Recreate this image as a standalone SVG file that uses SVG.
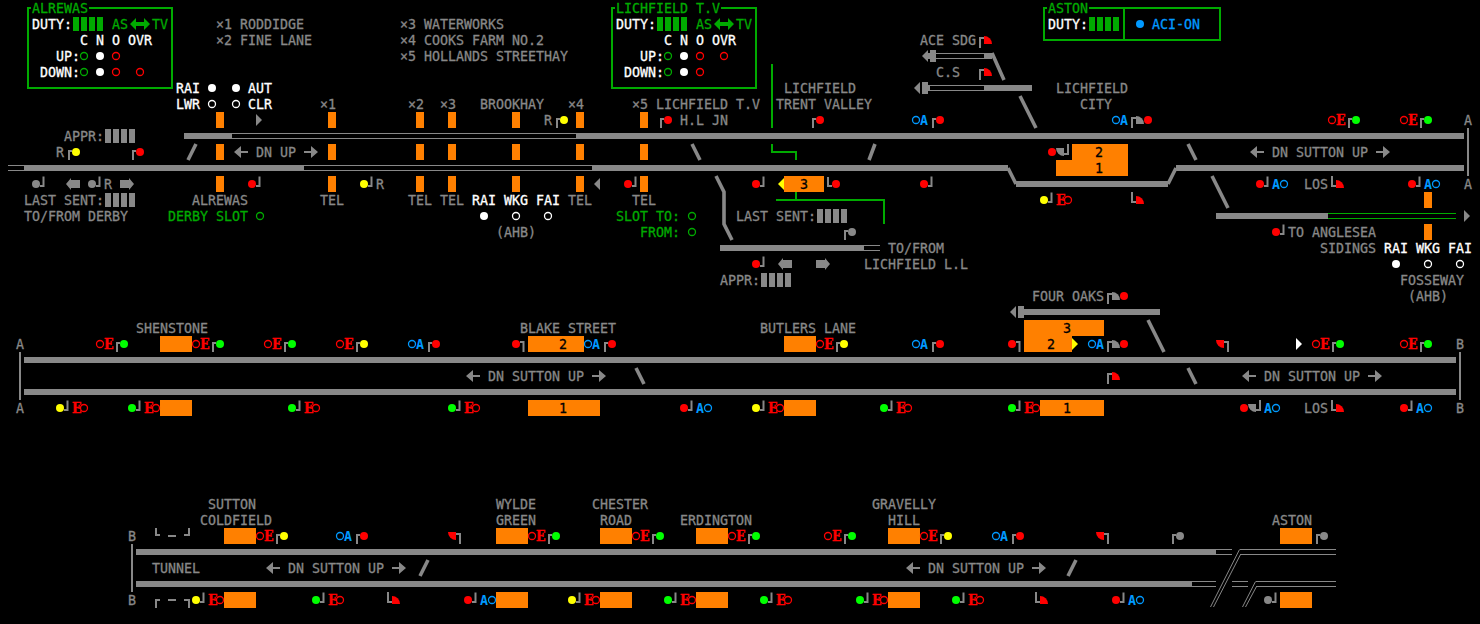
<svg xmlns="http://www.w3.org/2000/svg" width="1480" height="624" viewBox="0 0 1480 624">
<style>
text{font-family:"DejaVu Sans Mono","Liberation Mono",monospace;font-size:13.29px;fill:#888;stroke:#888;stroke-width:.3;white-space:pre}
text.w{fill:#fff;stroke:#fff}
text.g{fill:#00aa00;stroke:#00aa00}
text.b{fill:#0099ff;stroke:none;font-weight:bold}
text.n{fill:#0099ff;stroke:#0099ff}
text.e{fill:#f00;stroke:#f00;stroke-width:.35;font-family:"DejaVu Serif Condensed","DejaVu Serif","Liberation Serif",serif;font-stretch:condensed;font-size:14px;font-weight:bold}
text.d{fill:#000;stroke:#000}
.p{fill:none;stroke:#888;stroke-width:2}
.R{fill:#f00}.G{fill:#0f0}.Y{fill:#ff0}.K{fill:#888}.W{fill:#fff}.Dg{fill:#00aa00}
.hR{stroke:#f00}.hG{stroke:#00aa00}.hW{stroke:#fff}.hB{stroke:#0099ff}
.o{fill:#ff8000}
.thick{fill:none;stroke:#888;stroke-width:6}
.thin{fill:none;stroke:#888;stroke-width:1}
.thing{fill:none;stroke:#00aa00;stroke-width:1}
.sl{fill:none;stroke:#888;stroke-width:3.6}
.gl{fill:none;stroke:#00aa00;stroke-width:2}
.fr{fill:none;stroke:#00aa00;stroke-width:2}
</style>
<defs>
<circle id="h" r="3.5" fill="none" stroke-width="1.3"/>
<circle id="f" r="4"/>
<g id="su"><path class="p" d="M-7,8V-1H-4"/><circle r="4"/></g>
<g id="sd"><path class="p" d="M4,2H7.5V-7.5"/><circle r="4"/></g>
<g id="sc"><path class="p" d="M4,-2H7.5V8"/><circle r="4"/></g>
<g id="qu"><path class="p" d="M0,8V-2H4"/><path d="M4,4V-4A8,8 0 0 1 12,4Z"/></g>
<g id="ql"><path class="p" d="M0,-8V2H4"/><path d="M4,4V-4A8,8 0 0 1 12,4Z"/></g>
<g id="qc"><path class="p" d="M-4,-2H0V8"/><path d="M-4,-4H-12A8,8 0 0 0 -4,4Z"/></g>
<g id="qb"><path class="p" d="M-4,2H0V-8"/><path d="M-4,-4H-12A8,8 0 0 0 -4,4Z"/></g>
<polygon id="al" points="0,0 7,-6 7,-1 14,-1 14,1 7,1 7,6"/>
<polygon id="ar" points="14,0 7,-6 7,-1 0,-1 0,1 7,1 7,6"/>
<polygon id="bl" points="0,0 5,-6 5,-4 14,-4 14,4 5,4 5,6"/>
<polygon id="br" points="14,0 9,-6 9,-4 0,-4 0,4 9,4 9,6"/>
<polygon id="da" points="0,0 6,-6 6,-2 14,-2 14,-6 20,0 14,6 14,2 6,2 6,6"/>
<polygon id="tl" points="0,0 6,-6 6,6"/>
<polygon id="tr" points="6,0 0,-6 0,6"/>
<g id="bars"><rect x="0" y="-7" width="6" height="14"/><rect x="8" y="-7" width="6" height="14"/><rect x="16" y="-7" width="6" height="14"/><rect x="24" y="-7" width="6" height="14"/></g>
</defs>
<rect width="1480" height="624" fill="#000"/>

<g id="connectors">
<path class="thick" d="M184,136H232M576,136H1464M24,168H304M592,168H1008M1016,184H1168M1176,168H1464M1216,216H1328M720,248H864M928,56H936M984,56H992M928,88H930M984,88H1032M24,360H1456M24,392H1456M1024,312H1160M136,552H1216M136,584H1192"/>
<path class="thin" d="M232,133.5H576M232,138.5H576M8,165.5H24M8,170.5H24M304,165.5H592M304,170.5H592M864,245.5H880M864,250.5H880M936,53.5H984M936,58.5H984M928,85.5H984M928,90.5H984M1216,549.5H1232M1216,554.5H1232M1240,549.5H1336M1240,554.5H1336M1192,581.5H1216M1192,586.5H1216M1232,581.5H1248M1232,586.5H1248M1256,581.5H1336M1256,586.5H1336M1239.5,549.5L1210.5,607M1240.5,554.5L1213.5,607M1255.5,581.5L1242.5,607M1256.5,586.5L1245.5,607"/>
<path class="thing" d="M1328,213.5H1456M1328,218.5H1456"/>
<path class="p" d="M1468,128V176M20,352V400M1460,352V400M132,544V592"/>
<path class="sl" d="M1008,168L1016,184M1168,184L1176,168M196,144L188,160M692,144L700,160M875,144L869,160M1188,144L1196,160M716,176L724,192V224L732,240M992,53L1004,80M1020,96L1036,128M1212,176L1228,208M1148,320L1164,352M636,368L644,384M1188,368L1196,384M428,560L420,576M1076,560L1068,576"/>
<path class="gl" d="M772,64V128M772,144V152H796V160M796,192V200M776,200H884V224"/>
<rect class="K" x="930" y="50" width="6" height="12"/><use href="#tl" class="K" x="922" y="56"/>
<rect class="K" x="922" y="82" width="6" height="12"/><use href="#tl" class="K" x="914" y="88"/>
<rect class="K" x="1018" y="306" width="6" height="12"/><use href="#tl" class="K" x="1010" y="312"/>
<use href="#tr" class="K" x="1464" y="216"/>
</g>

<g id="panel-alrewas">
<rect class="fr" x="28" y="8" width="144" height="80"/><rect x="31" y="0" width="58" height="14" fill="#000"/>
<text class="g" x="32" y="13">ALREWAS</text>
<text class="w" x="32" y="29">DUTY:</text><use href="#bars" class="Dg" x="73" y="24"/>
<text class="g" x="112" y="29">AS</text><use href="#da" class="Dg" x="130" y="24"/><text class="g" x="152" y="29">TV</text>
<text class="w" x="80" y="45">C</text><text class="w" x="96" y="45">N</text><text class="w" x="112" y="45">O</text><text class="w" x="128" y="45">OVR</text>
<text class="w" x="56" y="61">UP:</text><use href="#h" class="hG" x="84" y="56"/><use href="#f" class="W" x="100" y="56"/><use href="#h" class="hR" x="116" y="56"/>
<text class="w" x="40" y="77">DOWN:</text><use href="#h" class="hG" x="84" y="72"/><use href="#f" class="W" x="100" y="72"/><use href="#h" class="hR" x="116" y="72"/><use href="#h" class="hR" x="140" y="72"/>
</g>
<g id="panel-lichfield">
<rect class="fr" x="612" y="8" width="144" height="80"/><rect x="615" y="0" width="106" height="14" fill="#000"/>
<text class="g" x="616" y="13">LICHFIELD T.V</text>
<text class="w" x="616" y="29">DUTY:</text><use href="#bars" class="Dg" x="657" y="24"/>
<text class="g" x="696" y="29">AS</text><use href="#da" class="Dg" x="714" y="24"/><text class="g" x="736" y="29">TV</text>
<text class="w" x="664" y="45">C</text><text class="w" x="680" y="45">N</text><text class="w" x="696" y="45">O</text><text class="w" x="712" y="45">OVR</text>
<text class="w" x="640" y="61">UP:</text><use href="#h" class="hG" x="668" y="56"/><use href="#f" class="W" x="684" y="56"/><use href="#h" class="hR" x="700" y="56"/><use href="#h" class="hR" x="724" y="56"/>
<text class="w" x="624" y="77">DOWN:</text><use href="#h" class="hG" x="668" y="72"/><use href="#f" class="W" x="684" y="72"/><use href="#h" class="hR" x="700" y="72"/>
</g>
<g id="panel-aston">
<rect class="fr" x="1044" y="8" width="176" height="32"/><path class="fr" d="M1124,8V40"/><rect x="1047" y="0" width="42" height="14" fill="#000"/>
<text class="g" x="1048" y="13">ASTON</text>
<text class="w" x="1048" y="29">DUTY:</text><use href="#bars" class="Dg" x="1089" y="24"/>
<circle cx="1140" cy="24" r="4" fill="#0099ff"/><text class="n" x="1152" y="29">ACI-ON</text>
</g>

<g id="legend">
<text x="216" y="29">×1 RODDIDGE</text><text x="216" y="45">×2 FINE LANE</text>
<text x="400" y="29">×3 WATERWORKS</text><text x="400" y="45">×4 COOKS FARM NO.2</text><text x="400" y="61">×5 HOLLANDS STREETHAY</text>
</g>

<g id="alrewas-derby">
<text class="w" x="176" y="93">RAI</text><use href="#f" class="W" x="212" y="88"/><use href="#f" class="W" x="236" y="88"/><text class="w" x="248" y="93">AUT</text>
<text class="w" x="176" y="109">LWR</text><use href="#h" class="hW" x="212" y="104"/><use href="#h" class="hW" x="236" y="104"/><text class="w" x="248" y="109">CLR</text>
<use href="#tr" class="K" x="256" y="120"/>
<text x="64" y="141">APPR:</text><use href="#bars" class="K" x="105" y="136"/>
<text x="56" y="157">R</text><use href="#su" class="Y" x="76" y="152"/><use href="#su" class="R" x="140" y="152"/>
<use href="#al" class="K" x="234" y="152"/><text x="256" y="157">DN UP</text><use href="#ar" class="K" x="304" y="152"/>
<use href="#sd" class="K" x="36" y="184"/><use href="#bl" class="K" x="66" y="184"/><use href="#sd" class="K" x="92" y="184"/><text x="104" y="189">R</text><use href="#br" class="K" x="120" y="184"/>
<text x="24" y="205">LAST SENT:</text><use href="#bars" class="K" x="105" y="200"/><text x="24" y="221">TO/FROM DERBY</text>
<text x="192" y="205">ALREWAS</text><text class="g" x="168" y="221">DERBY SLOT</text><use href="#h" class="hG" x="260" y="216"/>
<use href="#sd" class="R" x="252" y="184"/>
</g>

<g id="telephones">
<text x="320" y="109">×1</text><text x="408" y="109">×2</text><text x="440" y="109">×3</text><text x="480" y="109">BROOKHAY</text><text x="568" y="109">×4</text><text x="632" y="109">×5 LICHFIELD T.V</text>
<g class="o">
<rect x="216" y="112" width="8" height="16"/><rect x="328" y="112" width="8" height="16"/><rect x="416" y="112" width="8" height="16"/><rect x="448" y="112" width="8" height="16"/><rect x="512" y="112" width="8" height="16"/><rect x="576" y="112" width="8" height="16"/><rect x="640" y="112" width="8" height="16"/>
<rect x="216" y="144" width="8" height="16"/><rect x="328" y="144" width="8" height="16"/><rect x="416" y="144" width="8" height="16"/><rect x="448" y="144" width="8" height="16"/><rect x="512" y="144" width="8" height="16"/><rect x="576" y="144" width="8" height="16"/><rect x="640" y="144" width="8" height="16"/>
<rect x="216" y="176" width="8" height="16"/><rect x="328" y="176" width="8" height="16"/><rect x="416" y="176" width="8" height="16"/><rect x="448" y="176" width="8" height="16"/><rect x="512" y="176" width="8" height="16"/><rect x="576" y="176" width="8" height="16"/><rect x="640" y="176" width="8" height="16"/>
</g>
<text x="320" y="205">TEL</text><use href="#sd" class="Y" x="364" y="184"/><text x="376" y="189">R</text><text x="408" y="205">TEL</text><text x="440" y="205">TEL</text><text x="568" y="205">TEL</text><text x="632" y="205">TEL</text>
<text class="w" x="472" y="205">RAI</text><text class="w" x="504" y="205">WKG</text><text class="w" x="536" y="205">FAI</text>
<use href="#f" class="W" x="484" y="216"/><use href="#h" class="hW" x="516" y="216"/><use href="#h" class="hW" x="548" y="216"/><text x="496" y="237">(AHB)</text>
<use href="#tl" class="K" x="594" y="184"/><use href="#sd" class="R" x="628" y="184"/>
<text class="g" x="616" y="221">SLOT TO:</text><use href="#h" class="hG" x="692" y="216"/><text class="g" x="640" y="237">FROM:</text><use href="#h" class="hG" x="692" y="232"/>
<text x="544" y="125">R</text><use href="#su" class="Y" x="564" y="120"/><use href="#su" class="R" x="668" y="120"/><text x="680" y="125">H.L JN</text>
</g>

<g id="trent-valley">
<text x="784" y="93">LICHFIELD</text><text x="776" y="109">TRENT VALLEY</text><use href="#su" class="R" x="820" y="120"/>
<use href="#h" class="hB" x="916" y="120"/><text class="b" x="920" y="125">A</text><use href="#su" class="R" x="940" y="120"/>
<use href="#sd" class="R" x="756" y="184"/><use href="#tl" class="Y" x="778" y="184"/><rect class="o" x="784" y="176" width="40" height="16"/><text class="d" x="800" y="189">3</text>
<path class="p" d="M828,177V186H832"/><use href="#f" class="R" x="836" y="184"/><use href="#sd" class="R" x="924" y="184"/>
<text x="736" y="221">LAST SENT:</text><use href="#bars" class="K" x="817" y="216"/><use href="#su" class="K" x="852" y="232"/>
<text x="888" y="253">TO/FROM</text><text x="864" y="269">LICHFIELD L.L</text>
<use href="#sd" class="R" x="756" y="264"/><use href="#bl" class="K" x="778" y="264"/><use href="#br" class="K" x="816" y="264"/>
<text x="720" y="285">APPR:</text><use href="#bars" class="K" x="761" y="280"/>
<text x="920" y="45">ACE SDG</text><use href="#qu" class="R" x="980" y="40"/>
<text x="936" y="77">C.S</text><use href="#qu" class="R" x="980" y="72"/>
</g>

<g id="lichfield-city">
<text x="1056" y="93">LICHFIELD</text><text x="1080" y="109">CITY</text>
<use href="#h" class="hB" x="1116" y="120"/><text class="b" x="1120" y="125">A</text><use href="#qu" class="K" x="1132" y="120"/><use href="#f" class="R" x="1148" y="120"/>
<path class="o" d="M1072,144H1128V176H1056V160H1072Z"/><text class="d" x="1095" y="157">2</text><text class="d" x="1095" y="173">1</text>
<use href="#f" class="R" x="1052" y="152"/><use href="#qb" class="K" x="1068" y="152"/>
<use href="#sd" class="Y" x="1044" y="200"/><text class="e" x="1056" y="205">E</text><use href="#h" class="hR" x="1068" y="200"/>
<use href="#ql" class="R" x="1132" y="200"/>
</g>

<g id="sutton-a">
<use href="#h" class="hR" x="1332" y="120"/><text class="e" x="1336" y="125">E</text><use href="#su" class="G" x="1356" y="120"/>
<use href="#h" class="hR" x="1404" y="120"/><text class="e" x="1408" y="125">E</text><use href="#su" class="G" x="1428" y="120"/>
<text x="1464" y="125">A</text><text x="1464" y="189">A</text>
<use href="#al" class="K" x="1250" y="152"/><text x="1272" y="157">DN SUTTON UP</text><use href="#ar" class="K" x="1376" y="152"/>
<use href="#sd" class="R" x="1260" y="184"/><text class="b" x="1272" y="189">A</text><use href="#h" class="hB" x="1284" y="184"/>
<text x="1304" y="189">LOS</text><use href="#ql" class="R" x="1332" y="184"/>
<use href="#sd" class="R" x="1412" y="184"/><text class="b" x="1424" y="189">A</text><use href="#h" class="hB" x="1436" y="184"/>
<rect class="o" x="1424" y="192" width="8" height="16"/><rect class="o" x="1424" y="224" width="8" height="16"/>
<use href="#sd" class="R" x="1276" y="232"/><text x="1288" y="237">TO ANGLESEA</text><text x="1320" y="253">SIDINGS</text>
<text class="w" x="1384" y="253">RAI</text><text class="w" x="1416" y="253">WKG</text><text class="w" x="1448" y="253">FAI</text>
<use href="#f" class="W" x="1396" y="264"/><use href="#h" class="hW" x="1428" y="264"/><use href="#h" class="hW" x="1460" y="264"/>
<text x="1400" y="285">FOSSEWAY</text><text x="1408" y="301">(AHB)</text>
</g>

<g id="shenstone">
<text x="16" y="349">A</text><text x="16" y="413">A</text>
<text x="136" y="333">SHENSTONE</text><rect class="o" x="160" y="336" width="32" height="16"/><rect class="o" x="160" y="400" width="32" height="16"/>
<use href="#h" class="hR" x="100" y="344"/><text class="e" x="104" y="349">E</text><use href="#su" class="G" x="124" y="344"/>
<use href="#h" class="hR" x="196" y="344"/><text class="e" x="200" y="349">E</text><use href="#su" class="G" x="220" y="344"/>
<use href="#h" class="hR" x="268" y="344"/><text class="e" x="272" y="349">E</text><use href="#su" class="G" x="292" y="344"/>
<use href="#h" class="hR" x="340" y="344"/><text class="e" x="344" y="349">E</text><use href="#su" class="Y" x="364" y="344"/>
<use href="#h" class="hB" x="412" y="344"/><text class="b" x="416" y="349">A</text><use href="#su" class="R" x="436" y="344"/>
<use href="#sd" class="Y" x="60" y="408"/><text class="e" x="72" y="413">E</text><use href="#h" class="hR" x="84" y="408"/>
<use href="#sd" class="G" x="132" y="408"/><text class="e" x="144" y="413">E</text><use href="#h" class="hR" x="156" y="408"/>
<use href="#sd" class="G" x="292" y="408"/><text class="e" x="304" y="413">E</text><use href="#h" class="hR" x="316" y="408"/>
<use href="#sd" class="G" x="452" y="408"/><text class="e" x="464" y="413">E</text><use href="#h" class="hR" x="476" y="408"/>
<use href="#al" class="K" x="466" y="376"/><text x="488" y="381">DN SUTTON UP</text><use href="#ar" class="K" x="592" y="376"/>
</g>

<g id="blake-street">
<text x="520" y="333">BLAKE STREET</text>
<use href="#sc" class="R" x="516" y="344"/><rect class="o" x="528" y="336" width="56" height="16"/><text class="d" x="559" y="349">2</text>
<use href="#h" class="hB" x="588" y="344"/><text class="b" x="592" y="349">A</text><use href="#su" class="R" x="612" y="344"/>
<rect class="o" x="528" y="400" width="72" height="16"/><text class="d" x="559" y="413">1</text>
<use href="#sd" class="R" x="684" y="408"/><text class="b" x="696" y="413">A</text><use href="#h" class="hB" x="708" y="408"/>
</g>

<g id="butlers-lane">
<text x="760" y="333">BUTLERS LANE</text><rect class="o" x="784" y="336" width="32" height="16"/><rect class="o" x="784" y="400" width="32" height="16"/>
<use href="#h" class="hR" x="820" y="344"/><text class="e" x="824" y="349">E</text><use href="#su" class="Y" x="844" y="344"/>
<use href="#h" class="hB" x="916" y="344"/><text class="b" x="920" y="349">A</text><use href="#su" class="R" x="940" y="344"/>
<use href="#sd" class="Y" x="756" y="408"/><text class="e" x="768" y="413">E</text><use href="#h" class="hR" x="780" y="408"/>
<use href="#sd" class="G" x="884" y="408"/><text class="e" x="896" y="413">E</text><use href="#h" class="hR" x="908" y="408"/>
</g>

<g id="four-oaks">
<text x="1032" y="301">FOUR OAKS</text><use href="#qu" class="K" x="1108" y="296"/><use href="#f" class="R" x="1124" y="296"/>
<path class="o" d="M1024,320H1104V336H1072V352H1024Z"/><text class="d" x="1063" y="333">3</text><text class="d" x="1047" y="349">2</text>
<use href="#tr" class="Y" x="1072" y="344"/><use href="#sc" class="R" x="1012" y="344"/>
<use href="#h" class="hB" x="1092" y="344"/><text class="b" x="1096" y="349">A</text><use href="#qu" class="K" x="1108" y="344"/><use href="#f" class="R" x="1124" y="344"/>
<use href="#qu" class="R" x="1108" y="376"/>
<use href="#sd" class="G" x="1012" y="408"/><text class="e" x="1024" y="413">E</text><use href="#h" class="hR" x="1036" y="408"/>
<rect class="o" x="1040" y="400" width="64" height="16"/><text class="d" x="1063" y="413">1</text>
</g>

<g id="sutton-b">
<use href="#qc" class="R" x="1228" y="344"/><use href="#tr" class="W" x="1296" y="344"/>
<use href="#h" class="hR" x="1316" y="344"/><text class="e" x="1320" y="349">E</text><use href="#su" class="G" x="1340" y="344"/>
<use href="#h" class="hR" x="1404" y="344"/><text class="e" x="1408" y="349">E</text><use href="#su" class="G" x="1428" y="344"/>
<text x="1456" y="349">B</text><text x="1456" y="413">B</text>
<use href="#al" class="K" x="1242" y="376"/><text x="1264" y="381">DN SUTTON UP</text><use href="#ar" class="K" x="1368" y="376"/>
<use href="#f" class="R" x="1244" y="408"/><use href="#qb" class="K" x="1260" y="408"/><text class="b" x="1264" y="413">A</text><use href="#h" class="hB" x="1276" y="408"/>
<text x="1304" y="413">LOS</text><use href="#ql" class="R" x="1332" y="408"/>
<use href="#sd" class="R" x="1404" y="408"/><text class="b" x="1416" y="413">A</text><use href="#h" class="hB" x="1428" y="408"/>
</g>

<g id="sutton-coldfield">
<text x="128" y="541">B</text><text x="128" y="605">B</text>
<text x="208" y="509">SUTTON</text><text x="200" y="525">COLDFIELD</text>
<rect class="o" x="224" y="528" width="32" height="16"/><rect class="o" x="224" y="592" width="32" height="16"/>
<path class="p" d="M156,528V535H160M168,536H176M189,528V535H184M156,608V600H160M168,600H176M184,600H189V608"/>
<use href="#h" class="hR" x="260" y="536"/><text class="e" x="264" y="541">E</text><use href="#su" class="Y" x="284" y="536"/>
<use href="#h" class="hB" x="340" y="536"/><text class="b" x="344" y="541">A</text><use href="#su" class="R" x="364" y="536"/>
<use href="#qc" class="R" x="460" y="536"/>
<text x="152" y="573">TUNNEL</text><use href="#al" class="K" x="266" y="568"/><text x="288" y="573">DN SUTTON UP</text><use href="#ar" class="K" x="392" y="568"/>
<use href="#sd" class="Y" x="196" y="600"/><text class="e" x="208" y="605">E</text><use href="#h" class="hR" x="220" y="600"/>
<use href="#sd" class="G" x="316" y="600"/><text class="e" x="328" y="605">E</text><use href="#h" class="hR" x="340" y="600"/>
<use href="#ql" class="R" x="388" y="600"/>
<use href="#sd" class="R" x="468" y="600"/><text class="b" x="480" y="605">A</text><use href="#h" class="hB" x="492" y="600"/>
</g>

<g id="wylde-green">
<text x="496" y="509">WYLDE</text><text x="496" y="525">GREEN</text>
<rect class="o" x="496" y="528" width="32" height="16"/><rect class="o" x="496" y="592" width="32" height="16"/>
<use href="#h" class="hR" x="532" y="536"/><text class="e" x="536" y="541">E</text><use href="#su" class="G" x="556" y="536"/>
<use href="#sd" class="Y" x="572" y="600"/><text class="e" x="584" y="605">E</text><use href="#h" class="hR" x="596" y="600"/>
</g>

<g id="chester-road">
<text x="592" y="509">CHESTER</text><text x="600" y="525">ROAD</text>
<rect class="o" x="600" y="528" width="32" height="16"/><rect class="o" x="600" y="592" width="32" height="16"/>
<use href="#h" class="hR" x="636" y="536"/><text class="e" x="640" y="541">E</text><use href="#su" class="G" x="660" y="536"/>
<use href="#sd" class="G" x="668" y="600"/><text class="e" x="680" y="605">E</text><use href="#h" class="hR" x="692" y="600"/>
</g>

<g id="erdington">
<text x="680" y="525">ERDINGTON</text>
<rect class="o" x="696" y="528" width="32" height="16"/><rect class="o" x="696" y="592" width="32" height="16"/>
<use href="#h" class="hR" x="732" y="536"/><text class="e" x="736" y="541">E</text><use href="#su" class="G" x="756" y="536"/>
<use href="#sd" class="G" x="764" y="600"/><text class="e" x="776" y="605">E</text><use href="#h" class="hR" x="788" y="600"/>
<use href="#h" class="hR" x="828" y="536"/><text class="e" x="832" y="541">E</text><use href="#su" class="G" x="852" y="536"/>
<use href="#sd" class="G" x="860" y="600"/><text class="e" x="872" y="605">E</text><use href="#h" class="hR" x="884" y="600"/>
</g>

<g id="gravelly-hill">
<text x="872" y="509">GRAVELLY</text><text x="888" y="525">HILL</text>
<rect class="o" x="888" y="528" width="32" height="16"/><rect class="o" x="888" y="592" width="32" height="16"/>
<use href="#h" class="hR" x="924" y="536"/><text class="e" x="928" y="541">E</text><use href="#su" class="Y" x="948" y="536"/>
<use href="#sd" class="G" x="956" y="600"/><text class="e" x="968" y="605">E</text><use href="#h" class="hR" x="980" y="600"/>
<use href="#h" class="hB" x="996" y="536"/><text class="b" x="1000" y="541">A</text><use href="#su" class="R" x="1020" y="536"/>
<use href="#al" class="K" x="906" y="568"/><text x="928" y="573">DN SUTTON UP</text><use href="#ar" class="K" x="1032" y="568"/>
<use href="#ql" class="R" x="1036" y="600"/>
<use href="#qc" class="R" x="1108" y="536"/>
<use href="#sd" class="R" x="1116" y="600"/><text class="b" x="1128" y="605">A</text><use href="#h" class="hB" x="1140" y="600"/>
</g>

<g id="aston">
<use href="#su" class="K" x="1180" y="536"/>
<text x="1272" y="525">ASTON</text><rect class="o" x="1280" y="528" width="32" height="16"/><rect class="o" x="1280" y="592" width="32" height="16"/>
<use href="#su" class="K" x="1324" y="536"/><use href="#sd" class="K" x="1268" y="600"/>
</g>
</svg>
